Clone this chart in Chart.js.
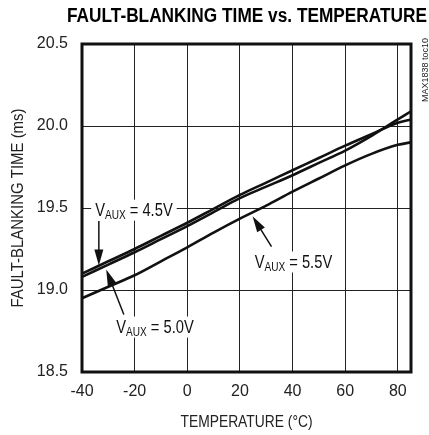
<!DOCTYPE html>
<html>
<head>
<meta charset="utf-8">
<script src="https://cdn.jsdelivr.net/npm/chart.js@4.4.0/dist/chart.umd.min.js"></script>
<style>
  html, body { margin: 0; padding: 0; background: #fff; }
  #wrap { width: 429px; height: 435px; }
</style>
</head>
<body>
<div id="wrap"><canvas id="chart" width="429" height="435"></canvas></div>
<script>
const FONT = '"Liberation Sans", Arial, sans-serif';

// data
const temps  = [-40, -30, -20, -10, 0, 10, 20, 30, 40, 50, 60, 70, 80, 85];
const vaux45 = [19.10, 19.175, 19.25, 19.33, 19.41, 19.495, 19.58, 19.655, 19.73, 19.805, 19.88, 19.95, 20.02, 20.04];
const vaux50 = [19.08, 19.155, 19.23, 19.31, 19.39, 19.475, 19.56, 19.63, 19.70, 19.775, 19.85, 19.94, 20.04, 20.09];
const vaux55 = [18.95, 19.02, 19.09, 19.175, 19.26, 19.35, 19.435, 19.515, 19.60, 19.68, 19.76, 19.83, 19.885, 19.90];
const xTicks = [-40, -20, 0, 20, 40, 60, 80];
const yTicks = [18.5, 19.0, 19.5, 20.0, 20.5];

function series(ys) {
  return temps.map((t, i) => ({ x: t, y: ys[i] }));
}

function lineSet(label, ys) {
  return {
    label: label,
    data: series(ys),
    borderColor: '#111',
    borderWidth: 2.6,
    pointRadius: 0,
    fill: false,
    cubicInterpolationMode: 'monotone'
  };
}

// label + arrow, in data units (temperature, ms)
const notes = [
  { text: '4.5V', tx: -35, ty: 19.49, from: [-33.6, 19.42], to: [-33.6, 19.15] },
  { text: '5.0V', tx: -27, ty: 18.777, from: [-24.1, 18.85], to: [-30.8, 19.125] },
  { text: '5.5V', tx: 25.6, ty: 19.174, from: [32.0, 19.265], to: [24.8, 19.45] }
];

// text squeezed sideways so it looks like the condensed face of the original
function narrowText(ctx, text, x, y, font, width, align) {
  ctx.save();
  ctx.font = font;
  const w = ctx.measureText(text).width;
  const sx = width / w;
  ctx.translate(x, y);
  ctx.scale(sx, 1);
  ctx.textAlign = align || 'center';
  ctx.fillText(text, 0, 0);
  ctx.restore();
}

function drawArrow(ctx, x0, y0, x1, y1) {
  const a = Math.atan2(y1 - y0, x1 - x0);
  const len = 16, half = 4.5;
  ctx.strokeStyle = '#111';
  ctx.fillStyle = '#111';
  ctx.lineWidth = 1.5;
  ctx.beginPath();
  ctx.moveTo(x0, y0);
  ctx.lineTo(x1 - Math.cos(a) * len * 0.8, y1 - Math.sin(a) * len * 0.8);
  ctx.stroke();
  ctx.beginPath();
  ctx.moveTo(x1, y1);
  ctx.lineTo(x1 - Math.cos(a) * len + Math.sin(a) * half, y1 - Math.sin(a) * len - Math.cos(a) * half);
  ctx.lineTo(x1 - Math.cos(a) * len - Math.sin(a) * half, y1 - Math.sin(a) * len + Math.cos(a) * half);
  ctx.closePath();
  ctx.fill();
}

function drawVaux(ctx, x, yMid, value) {
  const sx = 0.84;
  const big = '17.5px ' + FONT, small = '12px ' + FONT;
  ctx.font = big;
  const wV = ctx.measureText('V').width;
  const wRest = ctx.measureText(' = ' + value).width;
  ctx.font = small;
  const wSub = ctx.measureText('AUX').width;
  const w = (wV + wSub + wRest) * sx;
  ctx.fillStyle = '#fff';
  ctx.fillRect(x - 4, yMid - 10, w + 8, 21);
  ctx.save();
  ctx.translate(x, 0);
  ctx.scale(sx, 1);
  ctx.fillStyle = '#111';
  ctx.textAlign = 'left';
  ctx.textBaseline = 'alphabetic';
  const base = yMid + 6.5;
  ctx.font = big;
  ctx.fillText('V', 0, base);
  ctx.font = small;
  ctx.fillText('AUX', wV, base + 3);
  ctx.font = big;
  ctx.fillText(' = ' + value, wV + wSub, base);
  ctx.restore();
}

const extras = {
  id: 'extras',
  afterDatasetsDraw(chart) {
    const { ctx, chartArea: ca, scales: { x, y } } = chart;
    ctx.save();
    // heavy frame
    ctx.strokeStyle = '#111';
    ctx.lineWidth = 3;
    ctx.strokeRect(ca.left, ca.top, ca.right - ca.left, ca.bottom - ca.top);

    notes.forEach(n => {
      drawVaux(ctx, x.getPixelForValue(n.tx), y.getPixelForValue(n.ty), n.text);
      drawArrow(ctx,
        x.getPixelForValue(n.from[0]), y.getPixelForValue(n.from[1]),
        x.getPixelForValue(n.to[0]), y.getPixelForValue(n.to[1]));
    });

    ctx.textBaseline = 'alphabetic';
    // title
    ctx.fillStyle = '#000';
    narrowText(ctx, 'FAULT-BLANKING TIME vs. TEMPERATURE', 427, 22, 'bold 19.5px ' + FONT, 360, 'right');

    // axis titles
    ctx.fillStyle = '#222';
    narrowText(ctx, 'TEMPERATURE (°C)', (ca.left + ca.right) / 2, 427, '17px ' + FONT, 132, 'center');
    ctx.save();
    ctx.translate(23, (ca.top + ca.bottom) / 2);
    ctx.rotate(-Math.PI / 2);
    narrowText(ctx, 'FAULT-BLANKING TIME (ms)', 0, 0, '17px ' + FONT, 199, 'center');
    ctx.restore();

    // side tag
    ctx.translate(428, 70);
    ctx.rotate(-Math.PI / 2);
    narrowText(ctx, 'MAX1838 toc10', 0, 0, '9px ' + FONT, 64, 'center');
    ctx.restore();
  }
};

new Chart(document.getElementById('chart'), {
  type: 'line',
  data: {
    datasets: [
      lineSet('VAUX = 4.5V', vaux45),
      lineSet('VAUX = 5.0V', vaux50),
      lineSet('VAUX = 5.5V', vaux55)
    ]
  },
  options: {
    responsive: false,
    animation: false,
    devicePixelRatio: 1,
    layout: { padding: { left: 0, top: 44, right: 18, bottom: 0 } },
    plugins: {
      legend: { display: false },
      tooltip: { enabled: false }
    },
    scales: {
      x: {
        type: 'linear',
        min: -40,
        max: 85,
        afterBuildTicks: s => { s.ticks = xTicks.map(v => ({ value: v })); },
        afterFit: s => { s.height = 63; },
        grid: { color: '#222', lineWidth: 1, drawTicks: false },
        border: { display: false },
        ticks: {
          color: '#222',
          padding: 10,
          maxRotation: 0,
          font: { family: FONT, size: 16 }
        }
      },
      y: {
        type: 'linear',
        min: 18.5,
        max: 20.5,
        afterBuildTicks: s => { s.ticks = yTicks.map(v => ({ value: v })); },
        afterFit: s => { s.width = 82; },
        grid: { color: '#222', lineWidth: 1, drawTicks: false },
        border: { display: false },
        ticks: {
          color: '#222',
          padding: 14,
          callback: v => v.toFixed(1),
          font: { family: FONT, size: 16 }
        }
      }
    }
  },
  plugins: [extras]
});
</script>
</body>
</html>
